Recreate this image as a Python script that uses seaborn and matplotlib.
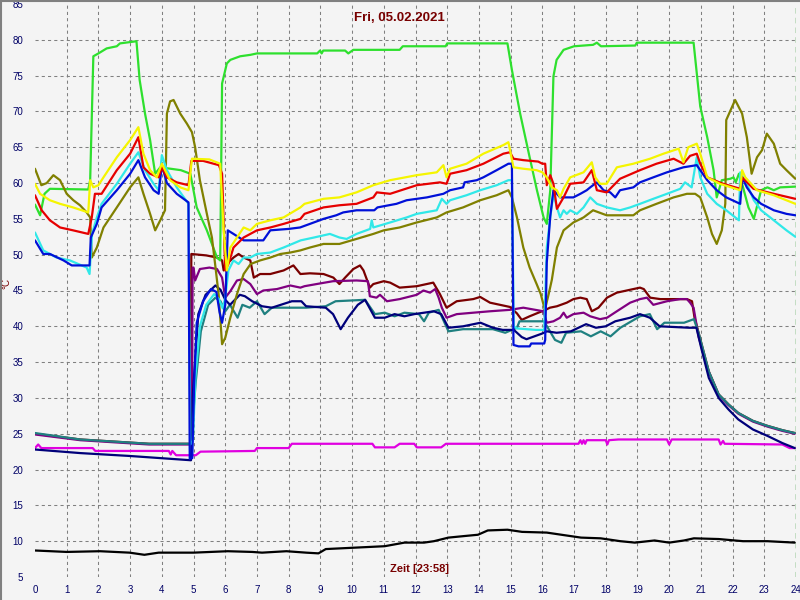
import matplotlib
matplotlib.use('Agg')
import matplotlib.pyplot as plt
import seaborn as sns
import pandas as pd
from matplotlib.ticker import MultipleLocator

# readings (hour, deg C) per sensor
green = [(0.0, 57.0), (0.16, 55.5), (0.3, 58.5), (0.47, 59.2), (1.68, 59.1), (1.74, 60.4), (1.84, 77.7),
         (2.0, 78.1), (2.26, 78.8), (2.58, 79.1), (2.68, 79.5), (3.2, 79.8), (3.3, 74.4), (3.47, 69.7),
         (3.63, 66.0), (3.79, 61.3), (3.95, 62.2), (4.6, 61.8), (4.9, 61.3), (5.1, 56.6), (5.42, 53.4),
         (5.74, 49.6), (5.84, 49.2), (5.9, 73.9), (6.05, 76.7), (6.16, 77.2), (6.47, 77.7), (6.79, 77.9),
         (7.0, 78.1), (8.9, 78.1), (8.99, 78.5), (9.04, 78.1), (9.09, 78.5), (9.78, 78.5), (9.88, 78.1),
         (10.04, 78.6), (11.5, 78.6), (11.6, 79.1), (12.95, 79.1), (13.0, 79.5), (14.9, 79.5), (15.04, 75.8),
         (15.3, 69.7), (15.6, 63.6), (15.83, 59.0), (16.04, 55.2), (16.14, 54.3), (16.25, 59.0), (16.35, 74.9),
         (16.45, 77.2), (16.67, 78.6), (17.0, 79.1), (17.6, 79.3), (17.72, 79.6), (17.85, 79.1), (18.93, 79.2),
         (18.98, 79.6), (20.77, 79.6), (20.98, 70.7), (21.2, 66.4), (21.4, 61.8), (21.5, 58.0), (21.66, 60.4),
         (21.93, 60.6), (22.03, 60.8), (22.1, 60.1), (22.2, 61.3), (22.3, 59.9), (22.5, 56.6), (22.67, 55.0),
         (22.9, 59.0), (23.1, 59.4), (23.3, 59.0), (23.5, 59.4), (23.97, 59.5)]

olive = [(0.0, 62.0), (0.2, 59.7), (0.37, 60.0), (0.58, 61.1), (0.79, 60.4), (1.0, 58.5), (1.21, 57.6),
         (1.42, 56.9), (1.63, 55.9), (1.74, 55.2), (1.79, 49.6), (1.95, 51.0), (2.16, 53.8), (2.58, 56.6),
         (3.0, 59.4), (3.26, 60.8), (3.42, 58.5), (3.63, 55.7), (3.79, 53.4), (3.95, 54.8), (4.1, 56.2),
         (4.16, 69.7), (4.26, 71.4), (4.37, 71.6), (4.58, 69.7), (4.79, 68.3), (4.95, 67.1), (5.05, 65.0),
         (5.2, 60.4), (5.42, 55.7), (5.58, 52.4), (5.68, 48.7), (5.79, 44.5), (5.9, 37.5), (6.0, 38.4),
         (6.16, 41.2), (6.37, 44.5), (6.58, 47.3), (6.8, 48.7), (7.1, 49.2), (7.42, 49.6), (7.74, 50.1),
         (8.05, 50.3), (8.37, 50.6), (8.67, 51.0), (9.1, 51.5), (9.6, 51.5), (10.14, 52.2), (10.67, 52.9),
         (11.0, 53.4), (11.5, 53.8), (12.04, 54.5), (12.67, 55.2), (12.98, 55.9), (13.5, 56.6), (14.04, 57.6),
         (14.56, 58.3), (14.93, 59.0), (15.04, 58.0), (15.2, 55.2), (15.4, 51.0), (15.6, 48.2), (15.82, 45.9),
         (15.95, 44.5), (16.08, 42.3), (16.2, 44.5), (16.3, 46.5), (16.46, 51.0), (16.67, 53.4), (16.98, 54.5),
         (17.3, 55.2), (17.6, 56.2), (18.03, 55.5), (18.87, 55.5), (19.08, 56.2), (19.6, 57.1), (20.14, 58.0),
         (20.56, 58.5), (20.82, 58.5), (20.98, 58.0), (21.2, 55.2), (21.35, 52.9), (21.5, 51.5), (21.66, 53.4),
         (21.77, 57.1), (21.8, 68.8), (22.08, 71.6), (22.3, 69.7), (22.45, 66.4), (22.6, 61.3), (22.77, 63.6),
         (22.93, 64.6), (23.08, 66.9), (23.3, 65.5), (23.5, 62.7), (23.7, 61.8), (23.98, 60.6)]

yellow = [(0.0, 59.9), (0.16, 58.5), (0.47, 57.6), (0.79, 57.1), (1.2, 56.6), (1.68, 55.9), (1.74, 60.4),
          (1.84, 59.4), (2.0, 59.7), (2.16, 60.8), (2.58, 63.6), (3.0, 66.0), (3.26, 67.8), (3.42, 64.1),
          (3.63, 61.8), (3.84, 60.8), (4.0, 62.7), (4.26, 60.4), (4.58, 59.4), (4.84, 59.0), (4.95, 63.4),
          (5.5, 63.3), (5.84, 62.7), (5.95, 53.4), (6.05, 47.8), (6.16, 51.0), (6.37, 52.4), (6.58, 53.8),
          (6.79, 53.4), (7.0, 54.3), (7.42, 54.8), (7.84, 55.2), (8.37, 56.6), (8.5, 57.1), (9.1, 57.8),
          (9.6, 58.0), (10.14, 58.7), (10.67, 59.7), (11.2, 60.4), (12.04, 61.1), (12.67, 61.5), (12.88, 62.5),
          (12.98, 60.8), (13.09, 62.0), (13.61, 62.7), (14.14, 64.1), (14.77, 65.3), (14.93, 65.7),
          (15.09, 62.2), (15.4, 62.0), (15.82, 61.8), (16.0, 61.5), (16.14, 60.8), (16.3, 59.4), (16.46, 59.0),
          (16.56, 58.0), (16.67, 59.2), (16.88, 60.8), (17.3, 61.5), (17.56, 62.9), (17.67, 60.8), (17.82, 59.9),
          (18.03, 59.9), (18.35, 62.2), (18.87, 62.7), (19.4, 63.4), (19.82, 64.1), (20.3, 64.8), (20.45, 62.9),
          (20.6, 65.0), (20.87, 65.5), (20.98, 64.1), (21.2, 60.8), (21.6, 59.9), (22.24, 59.0), (22.3, 61.8),
          (22.4, 60.8), (22.77, 59.0), (23.3, 58.3), (23.98, 57.1)]

red = [(0.0, 58.3), (0.21, 56.2), (0.47, 54.8), (0.79, 53.8), (1.2, 53.4), (1.68, 52.9), (1.79, 55.2),
       (1.89, 58.5), (2.1, 58.5), (2.58, 61.8), (3.0, 64.1), (3.26, 66.4), (3.42, 62.2), (3.63, 61.3),
       (3.9, 60.8), (4.0, 62.2), (4.16, 60.8), (4.47, 60.1), (4.84, 59.7), (4.93, 63.1), (5.3, 63.1),
       (5.8, 62.5), (5.9, 61.3), (6.0, 47.8), (6.1, 48.7), (6.26, 51.0), (6.58, 52.4), (7.0, 53.4),
       (7.42, 53.8), (7.84, 54.3), (8.37, 55.0), (8.5, 55.7), (9.1, 56.6), (9.6, 56.9), (10.14, 57.1),
       (10.67, 58.0), (10.78, 58.7), (11.2, 58.5), (12.04, 59.7), (12.77, 60.1), (12.98, 59.9), (13.09, 61.3),
       (13.61, 61.8), (14.14, 62.7), (14.77, 64.1), (14.98, 64.3), (15.09, 63.4), (15.4, 63.2), (15.87, 63.0),
       (16.0, 62.7), (16.09, 62.7), (16.14, 59.7), (16.25, 61.1), (16.35, 59.9), (16.46, 56.4), (16.67, 58.0),
       (16.88, 59.9), (17.3, 60.1), (17.56, 61.8), (17.72, 59.0), (18.03, 58.7), (18.45, 60.6), (19.08, 61.8),
       (19.6, 62.7), (20.14, 63.4), (20.45, 62.7), (20.66, 63.8), (20.87, 64.1), (20.98, 62.7), (21.2, 60.8),
       (21.7, 59.9), (22.24, 59.2), (22.3, 60.8), (22.66, 59.2), (23.3, 58.5), (23.98, 57.8)]

blue = [(0.0, 52.0), (0.26, 50.1), (0.47, 50.1), (0.9, 49.2), (1.16, 48.5), (1.72, 48.5), (1.76, 52.4),
        (1.95, 54.3), (2.1, 56.6), (2.58, 59.0), (3.0, 61.3), (3.26, 63.2), (3.47, 60.8), (3.74, 59.0),
        (3.9, 58.5), (4.0, 62.5), (4.16, 60.0), (4.47, 58.5), (4.84, 57.3), (4.88, 21.5), (4.96, 21.6),
        (5.02, 32.0), (5.1, 40.5), (5.3, 43.5), (5.55, 45.2), (5.72, 44.8), (5.82, 42.0), (5.9, 40.5),
        (6.0, 43.0), (6.08, 53.4), (6.26, 52.9), (6.58, 52.0), (7.2, 52.0), (7.42, 53.4), (8.0, 53.6),
        (8.36, 53.8), (8.67, 54.3), (9.1, 55.0), (9.5, 55.5), (9.72, 55.9), (10.14, 56.2), (10.7, 56.2),
        (10.8, 56.6), (11.4, 57.1), (11.72, 57.6), (12.36, 58.0), (12.88, 58.5), (13.09, 59.0), (13.5, 59.4),
        (13.55, 60.1), (13.93, 60.4), (14.14, 60.8), (14.56, 61.8), (14.93, 62.7), (15.04, 62.7), (15.09, 37.4),
        (15.25, 37.2), (15.6, 37.2), (15.65, 37.6), (16.06, 37.6), (16.09, 38.1), (16.14, 48.9), (16.25, 55.4),
        (16.35, 59.0), (16.46, 58.5), (16.56, 58.0), (16.98, 58.0), (17.2, 58.5), (17.4, 59.0), (17.51, 59.4),
        (17.72, 60.1), (17.93, 59.0), (18.14, 58.7), (18.3, 58.0), (18.45, 59.0), (18.87, 59.4), (19.08, 60.1),
        (19.5, 60.8), (19.93, 61.5), (20.45, 62.2), (20.87, 62.5), (20.98, 61.8), (21.2, 60.4), (21.5, 59.0),
        (21.8, 58.0), (22.24, 57.1), (22.3, 60.8), (22.45, 59.4), (22.67, 58.0), (22.9, 57.1), (23.3, 56.2),
        (23.7, 55.7), (23.98, 55.5)]

cyan = [(0.0, 53.1), (0.26, 50.6), (0.68, 49.6), (1.1, 49.2), (1.63, 48.2), (1.72, 47.3), (1.8, 52.9),
        (1.95, 55.2), (2.1, 57.1), (2.58, 59.9), (3.0, 62.7), (3.26, 64.3), (3.47, 61.8), (3.74, 59.9),
        (3.9, 59.0), (4.0, 63.9), (4.16, 61.8), (4.47, 59.4), (4.84, 57.1), (4.9, 23.5), (4.98, 24.0),
        (5.06, 33.0), (5.2, 40.0), (5.4, 43.0), (5.65, 44.5), (5.8, 43.8), (5.92, 42.5), (6.0, 44.0),
        (6.1, 47.8), (6.26, 49.2), (6.42, 48.7), (6.58, 49.6), (6.79, 49.6), (7.0, 50.1), (7.42, 50.3),
        (7.84, 51.0), (8.38, 52.0), (8.8, 52.4), (9.3, 52.9), (9.6, 52.4), (9.83, 52.2), (10.14, 52.9),
        (10.57, 53.6), (10.62, 54.8), (10.67, 53.8), (11.2, 54.5), (11.72, 55.2), (12.04, 55.7), (12.67, 56.2),
        (12.83, 57.8), (12.98, 57.1), (13.09, 57.6), (13.61, 58.3), (14.04, 59.0), (14.56, 59.7), (14.93, 60.4),
        (15.04, 60.4), (15.1, 40.0), (15.2, 39.7), (15.8, 39.5), (16.06, 39.5), (16.14, 51.0), (16.25, 55.2),
        (16.35, 58.5), (16.46, 56.6), (16.56, 55.2), (16.67, 56.2), (16.77, 55.7), (16.88, 56.2), (17.09, 55.7),
        (17.3, 56.6), (17.51, 58.0), (17.72, 57.1), (18.04, 56.6), (18.45, 56.2), (18.77, 56.6), (19.08, 57.1),
        (19.5, 57.8), (19.93, 58.5), (20.35, 59.2), (20.5, 60.1), (20.71, 59.4), (20.87, 63.6), (20.98, 60.8),
        (21.2, 58.5), (21.5, 57.1), (21.8, 56.2), (22.2, 54.8), (22.24, 61.5), (22.45, 59.9), (22.67, 57.6),
        (22.9, 56.2), (23.3, 54.8), (23.7, 53.4), (23.98, 52.5)]

maroon = [(0.0, 25.0), (1.43, 24.2), (3.6, 23.6), (4.9, 23.6), (4.93, 50.1), (5.4, 49.9), (5.74, 49.6),
          (5.9, 49.2), (5.95, 47.8), (6.05, 48.7), (6.26, 49.6), (6.42, 50.1), (6.58, 49.6), (6.79, 49.2),
          (6.9, 46.8), (7.1, 47.3), (7.42, 47.3), (7.84, 47.8), (8.15, 48.5), (8.37, 47.3), (8.67, 47.4),
          (9.1, 47.3), (9.41, 46.8), (9.6, 45.9), (9.78, 46.8), (10.04, 48.0), (10.25, 48.5), (10.36, 47.8),
          (10.56, 45.4), (10.67, 45.9), (11.0, 46.3), (11.2, 46.1), (11.5, 45.4), (12.04, 45.6), (12.56, 46.1),
          (12.77, 44.5), (12.98, 42.6), (13.3, 43.5), (13.82, 43.8), (14.04, 44.1), (14.35, 43.3), (14.98, 42.7),
          (15.2, 41.8), (15.35, 40.9), (15.6, 41.4), (15.82, 41.8), (16.1, 42.3), (16.24, 42.6), (16.46, 42.8),
          (16.77, 43.3), (16.98, 43.8), (17.2, 44.0), (17.4, 43.8), (17.56, 42.1), (17.77, 42.6), (18.04, 44.0),
          (18.35, 44.7), (18.87, 45.2), (19.08, 45.4), (19.2, 45.2), (19.4, 44.0), (19.72, 43.8), (20.14, 43.8),
          (20.56, 43.8), (20.72, 43.5), (20.8, 41.2), (20.94, 38.9), (21.25, 33.7), (21.56, 30.5), (21.87, 29.1),
          (22.18, 27.9), (22.64, 26.8), (23.1, 26.1), (23.57, 25.5), (23.96, 25.1)]

purple = [(0.0, 24.9), (1.43, 24.1), (3.6, 23.5), (4.95, 23.5), (4.97, 48.2), (5.0, 48.2), (5.05, 46.4),
          (5.2, 48.0), (5.5, 48.2), (5.74, 48.0), (5.9, 46.8), (6.0, 44.0), (6.16, 44.9), (6.37, 46.4),
          (6.58, 46.6), (6.79, 45.9), (7.0, 44.5), (7.2, 45.0), (7.63, 45.2), (8.05, 45.7), (8.37, 45.4),
          (8.5, 45.6), (8.88, 45.9), (9.4, 46.3), (10.14, 46.4), (10.5, 46.3), (10.56, 44.2), (10.77, 44.0),
          (10.88, 44.4), (11.1, 43.5), (11.5, 43.8), (12.04, 44.4), (12.25, 45.0), (12.46, 44.7), (12.62, 45.2),
          (12.73, 44.0), (12.83, 42.6), (12.98, 41.2), (13.3, 41.7), (13.82, 41.9), (14.35, 42.1), (14.98, 42.3),
          (15.4, 42.6), (16.03, 42.1), (16.14, 40.5), (16.35, 40.7), (16.56, 41.2), (16.67, 41.9), (16.77, 41.2),
          (16.98, 41.7), (17.3, 41.9), (17.51, 41.4), (17.82, 41.0), (18.04, 41.2), (18.35, 42.1), (18.77, 43.3),
          (19.08, 43.8), (19.3, 44.0), (19.5, 43.0), (19.93, 43.5), (20.35, 43.8), (20.56, 43.8), (20.66, 43.3),
          (20.77, 42.6), (20.93, 38.5), (21.25, 33.6), (21.56, 30.4), (21.87, 29.0), (22.18, 27.8), (22.64, 26.7),
          (23.1, 26.0), (23.57, 25.4), (23.96, 25.0)]

teal = [(0.0, 25.1), (1.43, 24.2), (3.6, 23.6), (4.92, 23.6), (5.07, 32.3), (5.23, 39.3), (5.46, 43.0),
        (5.69, 44.0), (5.85, 43.5), (6.0, 42.1), (6.15, 43.0), (6.39, 41.2), (6.54, 43.0), (6.77, 42.6),
        (7.0, 43.5), (7.24, 41.7), (7.47, 42.6), (7.93, 42.6), (8.55, 42.6), (9.17, 42.8), (9.48, 43.5),
        (10.41, 43.7), (10.72, 41.7), (11.03, 41.9), (11.34, 41.4), (11.65, 41.9), (12.11, 41.7), (12.27, 40.7),
        (12.42, 41.9), (12.73, 42.3), (13.04, 39.3), (13.5, 39.6), (14.44, 39.6), (14.83, 39.1), (15.2, 39.8),
        (15.28, 40.7), (16.05, 40.7), (16.2, 39.6), (16.4, 38.1), (16.6, 37.7), (16.75, 39.1), (17.22, 39.3),
        (17.53, 38.6), (17.84, 39.3), (18.15, 38.6), (18.46, 39.8), (19.08, 41.4), (19.39, 41.7), (19.62, 39.6),
        (19.85, 40.5), (20.47, 40.5), (20.78, 41.0), (20.94, 38.9), (21.25, 33.7), (21.56, 30.5), (21.87, 29.1),
        (22.18, 27.9), (22.64, 26.8), (23.1, 26.1), (23.57, 25.5), (23.96, 25.1)]

navy = [(0.0, 22.8), (1.43, 22.3), (2.98, 21.9), (4.92, 21.3), (4.97, 30.0), (5.15, 41.7), (5.38, 44.4),
        (5.69, 45.7), (5.85, 45.1), (6.0, 43.7), (6.15, 43.0), (6.46, 44.4), (6.62, 44.2), (6.85, 43.5),
        (7.16, 42.8), (7.47, 42.6), (8.1, 43.5), (8.4, 43.5), (8.55, 42.8), (9.17, 42.6), (9.4, 41.7),
        (9.64, 39.6), (9.87, 41.2), (10.18, 43.0), (10.41, 43.7), (10.72, 41.2), (11.03, 41.2), (11.34, 41.7),
        (11.65, 41.4), (11.96, 41.7), (12.27, 41.9), (12.58, 42.1), (12.81, 41.7), (13.04, 39.8), (13.5, 40.0),
        (14.05, 40.5), (14.44, 39.8), (14.75, 39.5), (15.1, 39.5), (15.35, 38.5), (15.5, 38.2), (16.0, 39.0),
        (16.14, 39.3), (16.45, 39.1), (16.9, 39.3), (17.38, 40.3), (17.69, 39.8), (18.0, 40.0), (18.3, 40.7),
        (18.77, 41.2), (19.08, 41.7), (19.39, 41.2), (19.7, 40.0), (20.63, 39.8), (20.86, 39.8), (21.01, 37.0),
        (21.25, 32.8), (21.56, 30.0), (21.87, 28.4), (22.18, 27.0), (22.64, 25.6), (23.1, 24.7), (23.57, 23.7),
        (23.96, 23.0)]

magenta = [(0.0, 23.0), (0.1, 23.5), (0.2, 23.0), (1.82, 23.0), (1.9, 22.6), (4.22, 22.6), (4.28, 22.1),
           (4.33, 22.6), (4.45, 22.0), (5.07, 22.0), (5.22, 22.5), (6.93, 22.6), (7.0, 23.0), (8.0, 23.0),
           (8.1, 23.6), (10.64, 23.6), (10.72, 23.1), (11.34, 23.1), (11.5, 23.6), (11.96, 23.6), (12.04, 23.1),
           (12.81, 23.1), (12.96, 23.6), (17.14, 23.6), (17.2, 24.1), (17.25, 23.6), (17.3, 24.1), (17.35, 23.6),
           (17.4, 24.1), (18.0, 24.1), (18.05, 23.5), (18.1, 24.1), (18.4, 24.2), (19.93, 24.2), (20.0, 23.5),
           (20.08, 24.2), (21.56, 24.2), (21.62, 23.5), (21.7, 24.0), (21.75, 23.6), (23.57, 23.5), (23.8, 23.0),
           (23.96, 23.0)]

black = [(0.0, 8.7), (1.0, 8.5), (2.05, 8.6), (2.98, 8.4), (3.45, 8.1), (3.9, 8.4), (5.0, 8.4), (6.08, 8.6),
         (6.85, 8.5), (7.16, 8.4), (7.93, 8.6), (8.55, 8.4), (8.94, 8.3), (9.17, 8.9), (10.1, 9.1), (11.03, 9.3),
         (11.65, 9.8), (12.27, 9.8), (12.58, 10.0), (13.04, 10.5), (13.5, 10.7), (13.97, 10.9), (14.28, 11.5),
         (14.9, 11.6), (15.36, 11.3), (16.14, 11.2), (16.6, 10.9), (17.22, 10.5), (17.84, 10.4), (18.46, 10.0),
         (18.92, 9.8), (19.54, 10.1), (20.0, 9.8), (20.47, 10.1), (20.78, 10.4), (21.56, 10.3), (22.33, 10.0),
         (23.1, 10.0), (23.96, 9.8)]

series = {'black': black, 'magenta': magenta, 'maroon': maroon, 'purple': purple, 'teal': teal,
          'navy': navy, 'green': green, 'olive': olive, 'cyan': cyan, 'blue': blue, 'red': red,
          'yellow': yellow}
colors = {'black': '#000000', 'magenta': '#e000e0', 'maroon': '#7a0000', 'purple': '#800080',
          'teal': '#1f8080', 'navy': '#00007a', 'green': '#2ee02e', 'olive': '#808000',
          'cyan': '#30e8e8', 'blue': '#0010d8', 'red': '#e60000', 'yellow': '#f5f500'}

rows = []
for name, pts in series.items():
    for h, t in pts:
        rows.append((name, h, t))
df = pd.DataFrame(rows, columns=['sensor', 'hour', 'temp'])

bg = '#f4f4f4'
dark_red = '#780000'
tick_col = '#000066'

sns.set_style('white')
plt.rcParams['font.family'] = ['Liberation Sans', 'DejaVu Sans']

fig = plt.figure(figsize=(8, 6), dpi=100, facecolor=bg)
ax = fig.add_axes([35 / 800, 23 / 600, 761 / 800, 573 / 600])
ax.set_facecolor(bg)

# dashed grid, inner lines only
for h in range(1, 24):
    ax.axvline(h, color='#808080', lw=0.75, ls=(0, (3, 3)), zorder=0)
for t in range(10, 85, 5):
    ax.axhline(t, color='#808080', lw=0.75, ls=(0, (3, 3)), zorder=0)
ax.axvline(24, color='#008000', lw=1.0, ls=(0, (4, 3)), zorder=0)

sns.lineplot(data=df, x='hour', y='temp', hue='sensor', hue_order=list(series),
             palette=colors, estimator=None, sort=False, linewidth=1.6, legend=False, ax=ax)

ax.set_xlim(0, 24)
ax.set_ylim(5, 85)
for s in ax.spines.values():
    s.set_visible(False)

ax.xaxis.set_major_locator(MultipleLocator(1))
ax.xaxis.set_minor_locator(MultipleLocator(1 / 8))
ax.yaxis.set_major_locator(MultipleLocator(5))
ax.yaxis.set_minor_locator(MultipleLocator(1))
ax.tick_params(axis='x', which='major', direction='out', length=4.5, width=1, color='#000033',
               labelsize=7, labelcolor=tick_col, pad=1.5)
ax.tick_params(axis='x', which='minor', direction='out', length=3, width=1, color='#000033')
ax.tick_params(axis='y', which='major', direction='out', length=7, width=1, color='#000033',
               labelsize=7, labelcolor=tick_col, pad=1.5)
ax.tick_params(axis='y', which='minor', direction='out', length=3.5, width=1, color='#000033')
ax.set_xticks(range(0, 25))
ax.set_yticks(range(5, 86, 5))
ax.set_xlabel('')
ax.set_ylabel('')

ax.text(0.479, 0.976, 'Fri, 05.02.2021', transform=ax.transAxes, ha='center', va='center',
        fontsize=9.5, fontweight='bold', color=dark_red)
ax.text(0.505, 0.014, 'Zeit [23:58]', transform=ax.transAxes, ha='center', va='center',
        fontsize=8, fontweight='bold', color=dark_red)
ax.text(-0.038, 0.512, '°C', transform=ax.transAxes, ha='center', va='center', rotation=90,
        fontsize=7, color=dark_red)

# window frame
fig.add_artist(plt.Line2D([0.001, 0.001], [0, 1], transform=fig.transFigure, color='#808080', lw=1.5))
fig.add_artist(plt.Line2D([0, 1], [0.999, 0.999], transform=fig.transFigure, color='#808080', lw=1.5))

fig.savefig('out.png', dpi=100, facecolor=bg)
